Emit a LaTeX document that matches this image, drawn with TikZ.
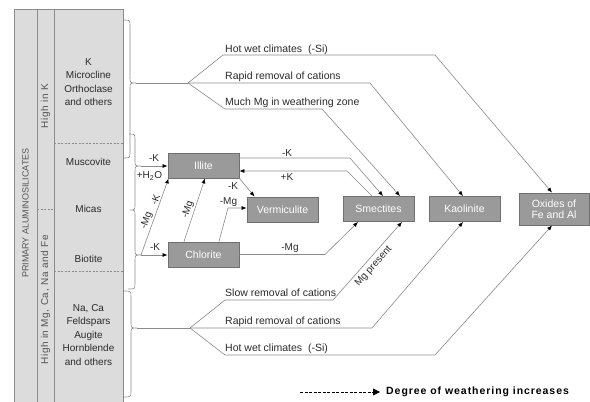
\documentclass[tikz,border=0pt]{standalone}
\usepackage{fontspec}
\setmainfont{Liberation Sans}
\newfontfamily\legendfont[LetterSpace=9]{Liberation Sans}
\newfontfamily\colfont[LetterSpace=6]{Liberation Sans}
\usetikzlibrary{arrows.meta,calc}
\definecolor{colfill}{HTML}{DCDCDC}
\definecolor{colline}{HTML}{8C8C8C}
\definecolor{boxfill}{HTML}{9A9A9A}
\definecolor{boxline}{HTML}{707070}
\definecolor{connc}{HTML}{8A8A8A}
\definecolor{txt}{HTML}{2A2A2A}
\definecolor{coltxt}{HTML}{555555}
\begin{document}
\begin{tikzpicture}[x=1pt,y=-1pt,
  mineral/.style={draw=boxline, fill=boxfill, line width=0.9pt, minimum width=71pt, minimum height=25pt, inner sep=0pt, text=white, font=\fontsize{10.5}{11.5}\selectfont, align=center},
  lbl/.style={text=txt, font=\fontsize{10}{12}\selectfont, inner sep=0pt},
  slbl/.style={text=txt, font=\fontsize{10}{12}\selectfont, inner sep=1.5pt, sloped},
  cond/.style={text=txt, font=\fontsize{10.5}{12}\selectfont, inner sep=0pt, anchor=base west},
  coltext/.style={text=txt, font=\fontsize{10}{13.5}\selectfont, align=center, inner sep=0pt},
  sidetext/.style={text=coltxt, font=\colfont\fontsize{10}{12}\selectfont, inner sep=0pt, rotate=90},
  connl/.style={draw=connc, line width=0.6pt},
  arr/.style={connl, -{Latex[length=5pt,width=4pt,color=black]}},
  brc/.style={draw=colline, line width=0.6pt},
  divider/.style={draw=colline, line width=0.6pt, dash pattern=on 2pt off 1.5pt},
]
\useasboundingbox (0,0) rectangle (590,402);

% left column
\path[fill=colfill, draw=colline, line width=0.8pt] (14,9) rectangle (123,402);
\draw[colline, line width=0.8pt] (37,9) -- (37,402);
\draw[colline, line width=0.8pt] (54,9) -- (54,402);
\draw[divider] (54,143) -- (123,143);
\draw[divider] (54,271) -- (123,271);
\draw[divider] (37,209) -- (54,209);

\node[text=coltxt, font=\fontsize{9}{11}\selectfont, inner sep=0pt, rotate=90] (prim) at (25.5,213) {PRIMARY ALUMINOSILICATES};
\node[sidetext] (hiK) at (45.5,106) {High in K};
\node[sidetext] (hiMg) at (45.5,300) {High in Mg, Ca, Na and Fe};

\node[coltext] (kgrp) at (88.5,82) {K\\Microcline\\Orthoclase\\and others};
\node[coltext] (musc) at (88.5,162) {Muscovite};
\node[coltext] (micas) at (88.5,209) {Micas};
\node[coltext] (biot) at (88.5,259) {Biotite};
\node[coltext] (naca) at (88.5,335) {Na, Ca\\Feldspars\\Augite\\Hornblende\\and others};

% braces
\coordinate (tipA) at (136,83);
\coordinate (jM) at (141,166);
\coordinate (jB) at (141,255);
\coordinate (tipD) at (137,328);
\draw[brc] (123,20) .. controls (130,20) .. (130,26) -- (130,77) .. controls (130,83) .. (tipA)
  .. controls (130,83) .. (130,89) -- (130,152) .. controls (130,158) .. (123,158);
\draw[brc] (129,134) .. controls (135,134) .. (135,140) -- (135,160) .. controls (135,166) .. (jM)
  .. controls (135,166) .. (135,172) -- (135,204) .. controls (135,210) .. (130,210)
  .. controls (135,210) .. (135,216) -- (135,249) .. controls (135,255) .. (jB)
  .. controls (135,255) .. (135,261) -- (135,283) .. controls (135,289) .. (128,289);
\draw[brc] (123,291) .. controls (131,291) .. (131,297) -- (131,322) .. controls (131,328) .. (tipD)
  .. controls (131,328) .. (131,334) -- (131,391) .. controls (131,397) .. (123,397);

% mineral boxes
\node[mineral] (illite) at (203.5,165.5) {Illite};
\node[mineral] (chlorite) at (203.5,254.5) {Chlorite};
\node[mineral] (verm) at (282.5,209.5) {Vermiculite};
\node[mineral] (smec) at (378.5,209) {Smectites};
\node[mineral] (kaol) at (464.5,209) {Kaolinite};
\node[mineral, minimum width=70pt, minimum height=32pt] (oxid) at (554,209) {Oxides of\\Fe and Al};

% top fan
\coordinate (splitT) at (188,83);
\draw[connl] (tipA) -- (splitT);
\draw[arr] (splitT) -- (223,55) -- (435,55) -- ($(oxid.north)+(-2,0)$);
\draw[arr] (splitT) -- (370,83) -- ($(kaol.north)+(-1.5,0)$);
\draw[arr] (splitT) -- (225,109) -- (322,109) -- ($(smec.north)+(21.5,0)$);
\node[cond] (hw1) at (225,52) {Hot wet climates\ \ (-Si)};
\node[cond] (rr1) at (225,79.5) {Rapid removal of cations};
\node[cond] (mg1) at (225,105.5) {Much Mg in weathering zone};

% bottom fan
\coordinate (splitB) at (190,328);
\draw[connl] (tipD) -- (splitB);
\draw[arr] (splitB) -- (225,300) -- (333,300) -- node[slbl, below=2pt, pos=0.5] (mgp) {Mg present} ($(smec.south)+(23.5,0)$);
\draw[arr] (splitB) -- (372,328) -- ($(kaol.south)+(-1.5,0)$);
\draw[arr] (splitB) -- (225,355) -- (435,355) -- ($(oxid.south)+(-2,0)$);
\node[cond] (sr2) at (225,296.5) {Slow removal of cations};
\node[cond] (rr2) at (225,324.5) {Rapid removal of cations};
\node[cond] (hw2) at (225,351.5) {Hot wet climates\ \ (-Si)};

% illite <-> smectites
\draw[arr] ($(illite.east)+(0,-7.5)$) -- (350,158) -- ($(smec.north)+(4.5,0)$);
\draw[arr] ($(smec.north)+(-6.5,0)$) -- (347,171) -- ($(illite.east)+(0,5.5)$);
\node[lbl] (mk) at (287,153) {-K};
\node[lbl] (pk) at (287,177) {+K};

% illite -> vermiculite
\draw[arr] (illite.south east) -- ($(verm.north west)+(8,0)$);
\node[lbl] (ivk) at (233,186) {-K};

% chlorite -> vermiculite
\draw[arr] ($(chlorite.north)+(15.5,0)$) -- (228,208) -- ($(verm.west)+(0,-1.5)$);
\node[lbl] (cvm) at (228.5,202.5) {-Mg};

% chlorite -> illite
\draw[arr] ($(chlorite.north)+(-19.5,0)$) -- node[slbl, above, pos=0.47] (cim) {-Mg} ($(illite.south)+(1.5,0)$);

% chlorite -> smectites
\draw[arr] (chlorite.east) -- (325,254.5) -- ($(smec.south)+(-20.5,0)$);
\node[lbl] (csm) at (290,248) {-Mg};

% primary -> illite / chlorite
\draw[arr] (jM) -- (illite.west |- jM);
\draw[arr] (jB) -- (chlorite.west |- jB);
\draw[arr] (jB) -- node[slbl, above, pos=0.42] (dmg) {-Mg} node[slbl, above, pos=0.7] (dk) {-K} ($(illite.south west)+(1,0)$);
\node[lbl] (lk1) at (154,158.5) {-K};
\node[lbl] (lh2o) at (149.5,176) {+H\textsubscript{2}O};
\node[lbl] (lk2) at (155,247.5) {-K};

% legend
\coordinate (legS) at (300,392);
\coordinate (legE) at (380,392);
\draw[black, line width=0.9pt, dash pattern=on 3pt off 1.5pt, -{Triangle[length=7pt,width=7pt]}] (legS) -- (legE);
\node[anchor=west, inner sep=0pt, text=black, font=\legendfont\bfseries\fontsize{10.5}{12}\selectfont] (leg) at (386,392) {Degree of weathering increases};
\end{tikzpicture}
\end{document}
